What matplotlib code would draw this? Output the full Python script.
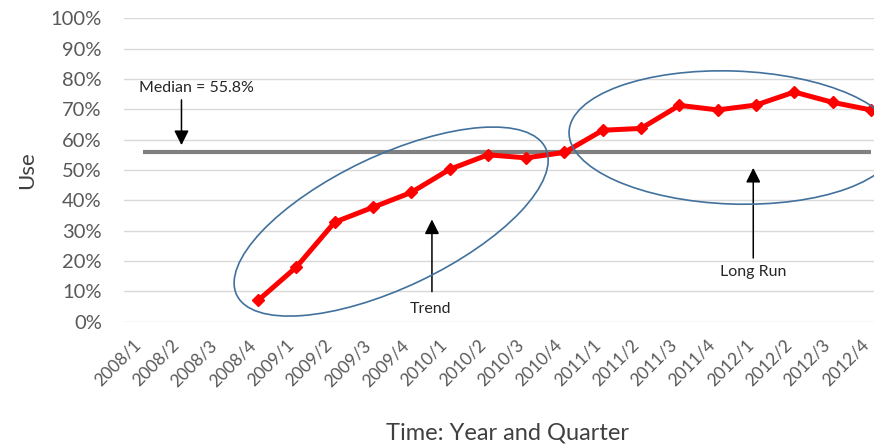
import matplotlib
matplotlib.use("Agg")
import matplotlib.pyplot as plt
import numpy as np
from matplotlib.patches import Ellipse
from matplotlib.transforms import ScaledTranslation
from matplotlib.ticker import FuncFormatter

# Quarterly use, in percent; no data before 2008/4
quarters = ["2008/1", "2008/2", "2008/3", "2008/4",
            "2009/1", "2009/2", "2009/3", "2009/4",
            "2010/1", "2010/2", "2010/3", "2010/4",
            "2011/1", "2011/2", "2011/3", "2011/4",
            "2012/1", "2012/2", "2012/3", "2012/4"]
use_pct = [np.nan, np.nan, np.nan, 7.0,
           18.0, 32.8, 37.7, 42.6,
           50.2, 55.0, 54.0, 55.8,
           63.1, 63.7, 71.3, 69.8,
           71.4, 75.7, 72.3, 69.8]
y_ticks = list(range(0, 101, 10))

plt.rcParams['font.family'] = ['Lato', 'DejaVu Sans']


def plot_use():
    x = np.arange(len(quarters))
    values = np.array(use_pct, dtype=float)
    median = np.nanmedian(values)

    fig = plt.figure(figsize=(8.74, 4.46), dpi=100)
    ax = fig.add_axes([0.1419, 0.2787, 0.8764, 0.6803])

    # median reference line across all quarters
    ax.plot([x[0], x[-1]], [median, median], color='#808080', lw=3,
            solid_capstyle='butt', zorder=2)

    # observed series
    ax.plot(x, values, color='#ff0000', lw=3.6, marker='D', markersize=6,
            zorder=3)

    ax.set_xlim(-0.5, len(quarters) - 0.5)
    ax.set_ylim(0, 100)
    ax.set_yticks(y_ticks)
    ax.yaxis.set_major_formatter(FuncFormatter(lambda v, p: f"{v:.0f}%"))
    ax.set_xticks(x)
    ax.set_xticklabels(quarters, rotation=45, ha='right', va='center',
                       rotation_mode='anchor')
    ax.grid(axis='y', color='#d9d9d9', lw=1)
    ax.set_axisbelow(True)
    for s in ax.spines.values():
        s.set_visible(False)
    ax.tick_params(axis='y', length=0, pad=16, labelsize=14.5,
                   labelcolor='#595959')
    ax.tick_params(axis='x', length=0, pad=15, labelsize=12.5,
                   labelcolor='#595959')
    # nudge the slanted labels a little to the left (after tick_params,
    # which resets the label transforms)
    nudge = ScaledTranslation(-5 / 100, 0, fig.dpi_scale_trans)
    for lbl in ax.get_xticklabels():
        lbl.set_transform(lbl.get_transform() + nudge)

    ax.set_ylabel('Use', fontsize=16, color='#404040')
    ax.yaxis.set_label_coords(-0.1136, 0.5)
    ax.set_xlabel('Time: Year and Quarter', fontsize=17, color='#404040',
                  va='center')
    ax.xaxis.set_label_coords(0.5, -0.368)

    # circled regions (sizes in inches, centres in data units)
    def ring(cx, cy, w, h, angle):
        tr = fig.dpi_scale_trans + ScaledTranslation(cx, cy, ax.transData)
        ax.add_patch(Ellipse((0, 0), w, h, angle=angle, transform=tr,
                             fill=False, edgecolor='#41719c', lw=1.2,
                             zorder=4))

    ring(6.475, 33.0, 3.42, 1.32, 25.4)
    ring(15.4, 60.7, 3.28, 1.33, -2)

    arrow = dict(arrowstyle='-|>', color='black', lw=1.1,
                 mutation_scale=22, shrinkA=0, shrinkB=0)
    ax.annotate('', xy=(1.0, 58.2), xytext=(1.0, 73.1), arrowprops=arrow)
    ax.text(1.4, 77.0, f'Median = {median:.1f}%', fontsize=11.5,
            color='#262626', ha='center', va='center')
    ax.annotate('', xy=(7.54, 33.7), xytext=(7.54, 9.9), arrowprops=arrow)
    ax.text(7.5, 4.1, 'Trend', fontsize=11.5, color='#262626',
            ha='center', va='center')
    ax.annotate('', xy=(15.93, 50.7), xytext=(15.93, 21.0), arrowprops=arrow)
    ax.text(15.93, 16.4, 'Long Run', fontsize=11.5, color='#262626',
            ha='center', va='center')

    fig.savefig('out.png', dpi=100)


if __name__ == "__main__":
    plot_use()
